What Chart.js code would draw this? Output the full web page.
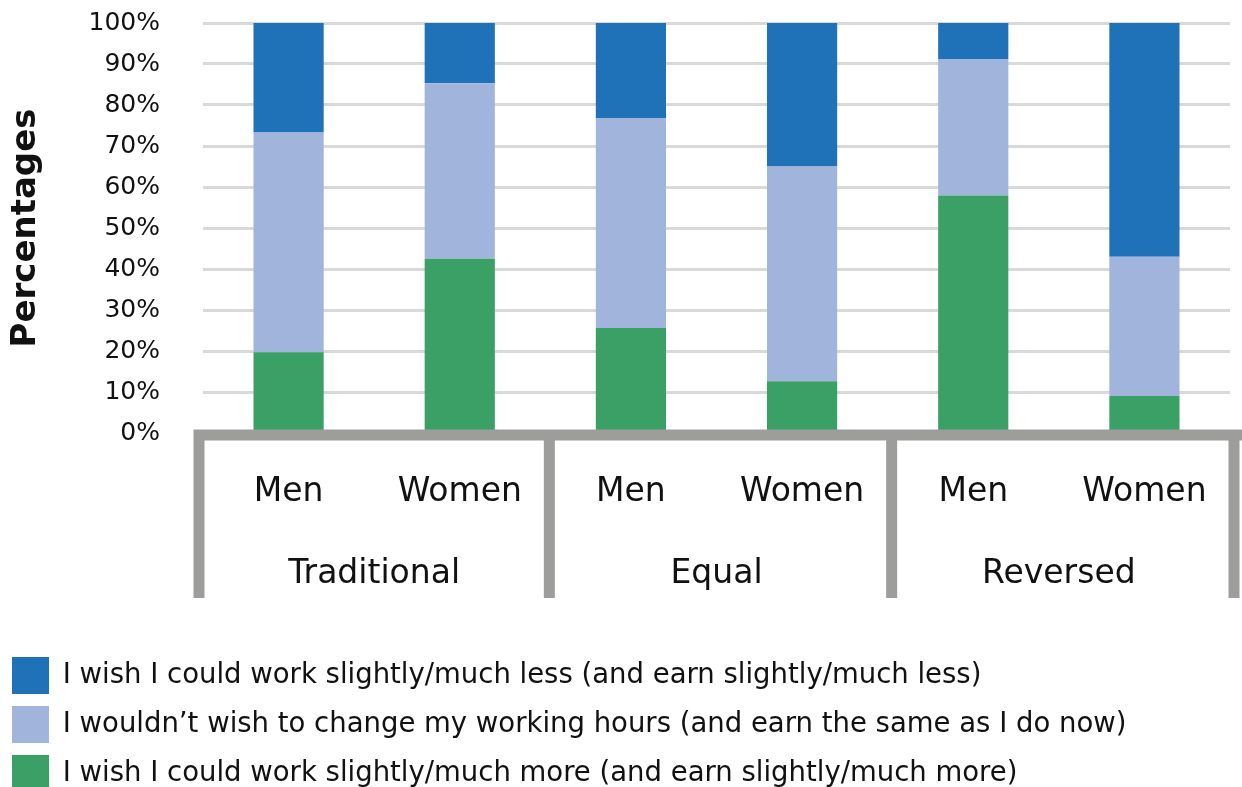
<!DOCTYPE html>
<html>
<head>
<meta charset="utf-8">
<script src="https://cdn.jsdelivr.net/npm/chart.js@4.4.0/dist/chart.umd.min.js"></script>
<style>
  html, body { margin: 0; padding: 0; background: #fff; }
  #wrap { width: 1242px; height: 787px; }
</style>
</head>
<body>
<div id="wrap"><canvas id="chartHours"></canvas></div>
<script>
// categories and values
const categories = ["Men", "Women", "Men", "Women", "Men", "Women"];
const groups = ["Traditional", "Equal", "Reversed"];
const seriesNames = [
    "I wish I could work slightly/much more (and earn slightly/much more)",
    "I wouldn\u2019t wish to change my working hours (and earn the same as I do now)",
    "I wish I could work slightly/much less (and earn slightly/much less)"
];
const moreWork = [19.7, 42.5, 25.6, 12.6, 57.9, 9.0];
const noChange = [53.6, 42.8, 51.2, 52.4, 33.3, 34.0];
const lessWork = [26.7, 14.7, 23.2, 35.0, 8.8, 57.0];
const yTicks = [0, 10, 20, 30, 40, 50, 60, 70, 80, 90, 100];

const colors = ["#3aa066", "#a1b4dc", "#1f71b8"];
const FONT = "'DejaVu Sans', sans-serif";
const HIDDEN = 'rgba(0,0,0,0)';

// grey box frame under the bars (Excel style multi-level axis)
const axisFrame = {
    id: 'axisFrame',
    afterDraw(chart) {
        const { ctx, chartArea, scales } = chart;
        const x = scales.x;
        const top = chartArea.bottom + 2;
        const bottom = scales.group.top + 67;
        ctx.save();
        ctx.strokeStyle = '#9d9d9c';
        ctx.lineWidth = 11;
        ctx.beginPath();
        ctx.moveTo(x.getPixelForValue(-0.5) - 9, top);
        ctx.lineTo(chart.width, top);
        [-0.5, 1.5, 3.5, 5.5].forEach(v => {
            const px = x.getPixelForValue(v) + (v < 0 ? -4 : 4);
            ctx.moveTo(px, top - 5.5);
            ctx.lineTo(px, bottom);
        });
        ctx.stroke();
        ctx.restore();
    }
};

const chartHours = new Chart("chartHours", {
    type: "bar",
    data: {
        labels: categories,
        datasets: [
            { label: seriesNames[0], data: moreWork, backgroundColor: colors[0] },
            { label: seriesNames[1], data: noChange, backgroundColor: colors[1] },
            { label: seriesNames[2], data: lessWork, backgroundColor: colors[2] }
        ]
    },
    options: {
        responsive: true,
        maintainAspectRatio: false,
        animation: false,
        barPercentage: 0.41,
        categoryPercentage: 1,
        layout: { padding: { left: 0, right: 12, top: 23, bottom: -15 } },
        scales: {
            x: {
                stacked: true,
                grid: { display: false, drawTicks: true, tickLength: 40, tickColor: HIDDEN },
                border: { display: false },
                ticks: { color: '#111', padding: 0, font: { family: FONT, size: 33 } },
                afterFit(scale) { scale.height = 98; }
            },
            group: {
                type: 'category',
                position: 'bottom',
                labels: groups,
                offset: true,
                grid: { display: false, drawTicks: true, tickLength: 24, tickColor: HIDDEN },
                border: { display: false },
                ticks: { color: '#111', padding: 0, font: { family: FONT, size: 33 } },
                afterFit(scale) { scale.height = 114; }
            },
            y: {
                stacked: true,
                min: 0,
                max: 100,
                afterBuildTicks(scale) { scale.ticks = yTicks.map(v => ({ value: v })); },
                ticks: {
                    color: '#111',
                    padding: 0,
                    font: { family: FONT, size: 25 },
                    callback: v => v + '%'
                },
                grid: { color: '#d9d9d9', lineWidth: 3, drawTicks: true, tickLength: 43, tickColor: HIDDEN },
                border: { display: false },
                title: {
                    display: true,
                    text: 'Percentages',
                    color: '#111',
                    padding: { top: 6, bottom: 0 },
                    font: { family: FONT, size: 34, weight: 'bold' }
                },
                afterFit(scale) { scale.width = 203; }
            }
        },
        plugins: {
            legend: {
                position: 'bottom',
                align: 'start',
                reverse: true,
                onClick: null,
                labels: {
                    boxWidth: 37,
                    boxHeight: 37,
                    padding: 12,
                    color: '#111',
                    font: { family: FONT, size: 27.5 }
                }
            },
            tooltip: { enabled: false }
        }
    },
    plugins: [axisFrame]
});
</script>
</body>
</html>
